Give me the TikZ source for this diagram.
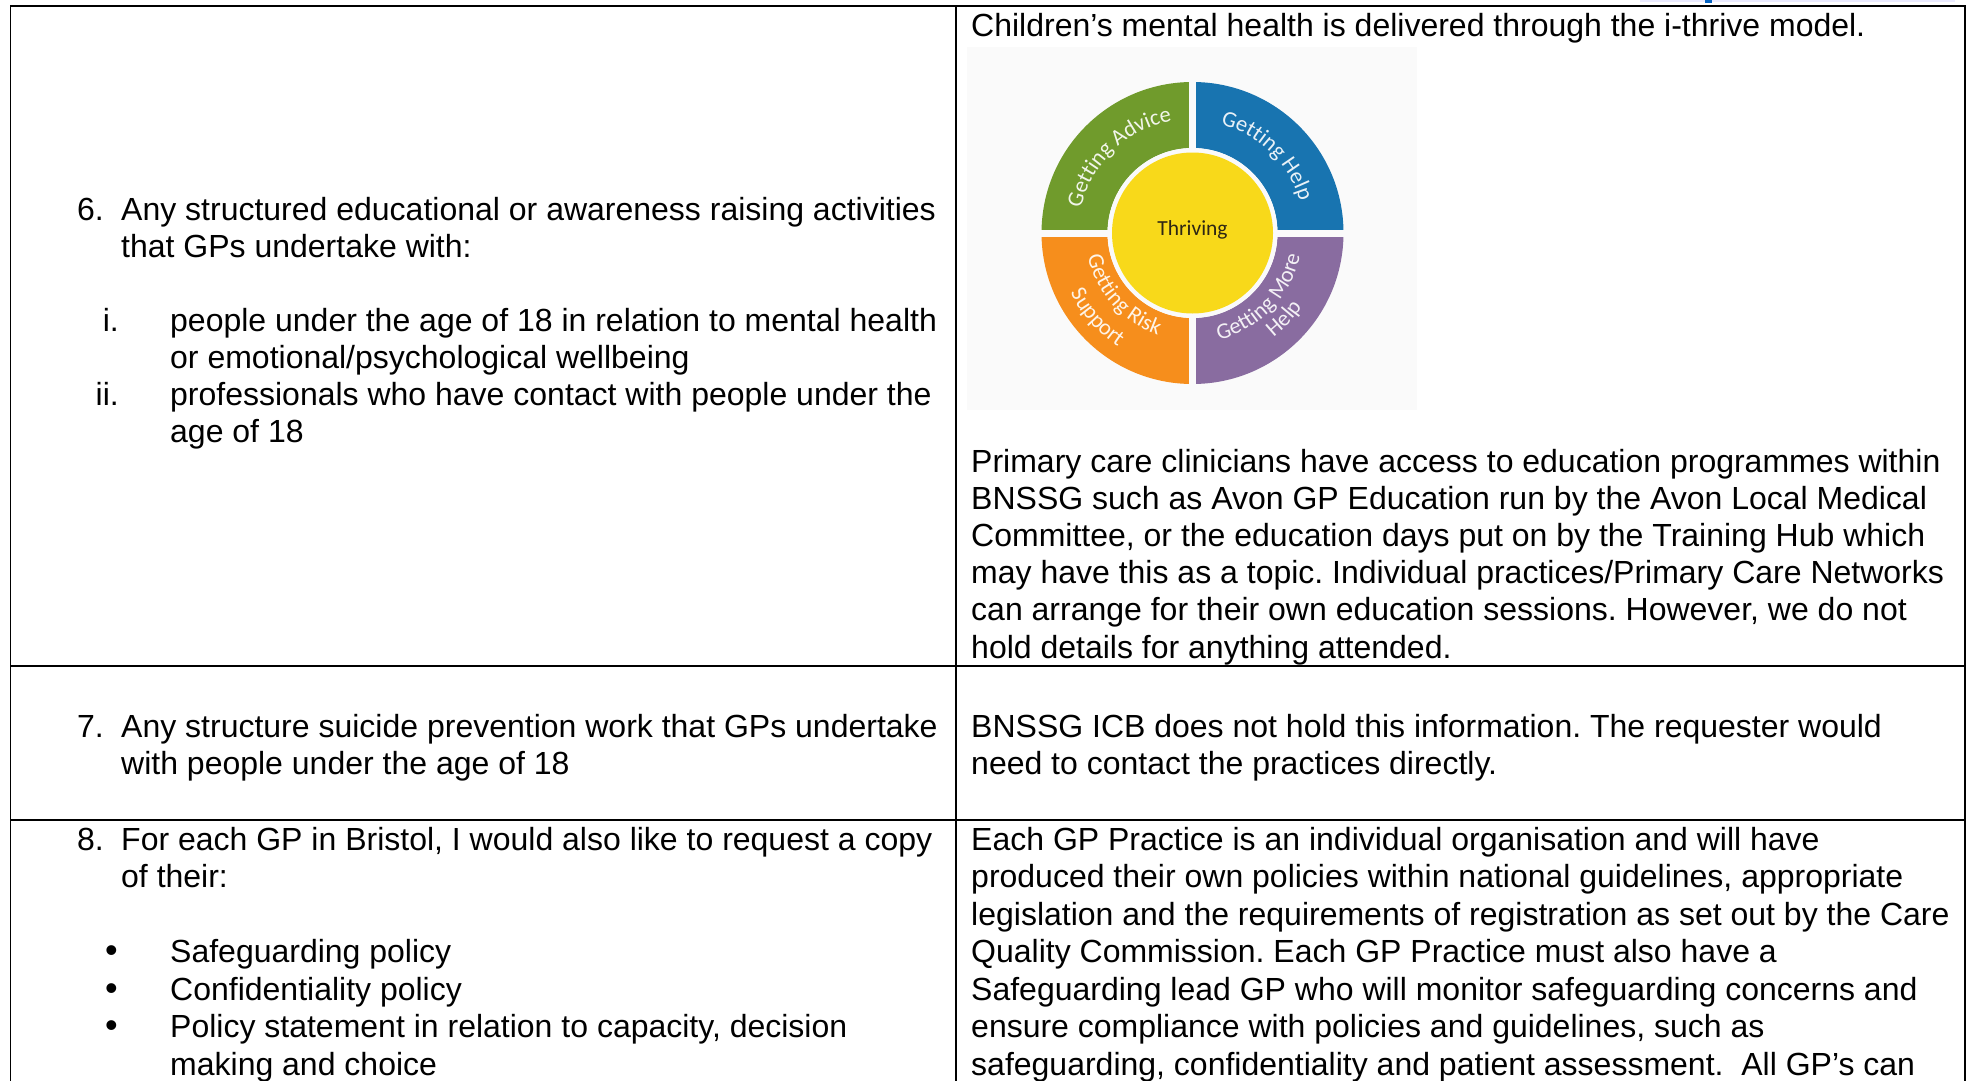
\documentclass[tikz,border=0pt]{standalone}
\usepackage{fontspec}
\setmainfont{Liberation Sans}
\newfontfamily\ringfont{Carlito}
\usetikzlibrary{decorations.text}
\definecolor{rgreen}{RGB}{112,155,44}
\definecolor{rblue}{RGB}{24,116,176}
\definecolor{rorange}{RGB}{246,142,28}
\definecolor{rpurple}{RGB}{137,108,160}
\definecolor{ryellow}{RGB}{248,217,26}
\definecolor{imgbg}{RGB}{250,250,250}
\definecolor{linkblue}{RGB}{5,99,193}
\definecolor{thrivetxt}{RGB}{45,38,20}
\frenchspacing
\begin{document}
\begin{tikzpicture}[x=1pt,y=1pt,
  body/.style={anchor=base west, inner sep=0pt, font=\fontsize{32}{37.2}\selectfont},
  bodyr/.style={anchor=base east, inner sep=0pt, font=\fontsize{32}{37.2}\selectfont},
  rule/.style={line width=1.4pt, draw=black},
  outer/.style={line width=2pt, draw=black},
  ringtext/.style={decorate, decoration={text along path, text align=center, text color=#1}},
]
\useasboundingbox (0,0) rectangle (1970,-1081);
\fill[white] (0,0) rectangle (1970,-1081);
% cut-off link text at the top
\fill[blue!8] (1640,0) rectangle (1955,-2);
\fill[linkblue] (1705,0) rectangle (1712,-3);
% table grid
\coordinate (tl) at (10,-6.5);
\coordinate (tr) at (1966,-6.5);
\coordinate (tm) at (956,-6.5);
\coordinate (bl) at (10.5,-1081);
\coordinate (br) at (1965,-1081);
\coordinate (bm) at (956,-1081);
\coordinate (s1l) at (10.5,-666);
\coordinate (s1r) at (1965,-666);
\coordinate (s2l) at (10.5,-820);
\coordinate (s2r) at (1965,-820);
\draw[outer] (tl) -- (tr);
\draw[rule] (10.5,-6.5) -- (bl);
\draw[outer] (1965,-6.5) -- (br);
\draw[rule] (tm) -- (bm);
\draw[rule] (s1l) -- (s1r);
\draw[rule] (s2l) -- (s2r);
% row 6 left
\node[body] (n6) at (77,-220) {6.};
\node[body] (q6a) at (121,-220) {Any structured educational or awareness raising activities};
\node[body] (q6b) at (121,-257.2) {that GPs undertake with:};
\node[bodyr] (ri) at (119,-331.6) {i.};
\node[body] (q6c) at (170,-331.6) {people under the age of 18 in relation to mental health};
\node[body] (q6d) at (170,-368.8) {or emotional/psychological wellbeing};
\node[bodyr] (rii) at (119,-405) {ii.};
\node[body] (q6e) at (170,-405) {professionals who have contact with people under the};
\node[body] (q6f) at (170,-442) {age of 18};
% row 6 right
\node[body] (a6a) at (971,-37) {Children’s mental health is delivered through the i-thrive model.};
\fill[imgbg] (967,-47) rectangle (1417,-410);
\begin{scope}[shift={(1192.5,-233)}]
  \fill[rgreen] (90:151) arc (90:180:151) -- (180:85) arc (180:90:85) -- cycle;
  \fill[rblue] (0:151) arc (0:90:151) -- (90:85) arc (90:0:85) -- cycle;
  \fill[rorange] (180:151) arc (180:270:151) -- (270:85) arc (270:180:85) -- cycle;
  \fill[rpurple] (270:151) arc (270:360:151) -- (0:85) arc (360:270:85) -- cycle;
  \fill[imgbg] (-152,-3.5) rectangle (152,3.5);
  \fill[imgbg] (-3.5,-152) rectangle (3.5,152);
  \fill[imgbg] (0,0) circle (85);
  \fill[ryellow] (0,0) circle (80.5);
  \node[font=\ringfont\fontsize{21.5}{21.5}\selectfont, text=thrivetxt] (thr) at (0,3) {Thriving};
  \path[ringtext=white!90!rgreen, decoration={text={|\ringfont\fontsize{22.5}{22.5}\selectfont|Getting Advice}}] (174:114) arc (174:94:114);
  \path[ringtext=white!90!rblue, decoration={text={|\ringfont\fontsize{22.5}{22.5}\selectfont|Getting Help}}] (86:112) arc (86:6:112);
  \path[ringtext=white!90!rorange, decoration={text={|\ringfont\fontsize{22.5}{22.5}\selectfont|Getting Risk}}] (182:107.5) arc (182:262:107.5);
  \path[ringtext=white!90!rorange, decoration={text={|\ringfont\fontsize{22.5}{22.5}\selectfont|Support}}] (196:136) arc (196:247:136);
  \path[ringtext=white!90!rpurple, decoration={text={|\ringfont\fontsize{22.5}{22.5}\selectfont|Getting More}}] (276:110) arc (276:356:110);
  \path[ringtext=white!90!rpurple, decoration={text={|\ringfont\fontsize{22.5}{22.5}\selectfont|Help}}] (297:132) arc (297:337:132);
\end{scope}
\node[body] (a6b) at (971,-472) {Primary care clinicians have access to education programmes within};
\node[body] (a6c) at (971,-509.2) {BNSSG such as Avon GP Education run by the Avon Local Medical};
\node[body] (a6d) at (971,-546.4) {Committee, or the education days put on by the Training Hub which};
\node[body] (a6e) at (971,-583.6) {may have this as a topic. Individual practices/Primary Care Networks};
\node[body] (a6f) at (971,-620.8) {can arrange for their own education sessions. However, we do not};
\node[body] (a6g) at (971,-658) {hold details for anything attended.};
% row 7
\node[body] (n7) at (77,-737) {7.};
\node[body] (q7a) at (121,-737) {Any structure suicide prevention work that GPs undertake};
\node[body] (q7b) at (121,-774) {with people under the age of 18};
\node[body] (a7a) at (971,-737) {BNSSG ICB does not hold this information. The requester would};
\node[body] (a7b) at (971,-774) {need to contact the practices directly.};
% row 8
\node[body] (n8) at (77,-850) {8.};
\node[body] (q8a) at (121,-850) {For each GP in Bristol, I would also like to request a copy};
\node[body] (q8b) at (121,-887.5) {of their:};
\node[body, font=\fontsize{36}{37.2}\selectfont] (b1) at (105,-962.5) {•};
\node[body] (q8c) at (170,-962.5) {Safeguarding policy};
\node[body, font=\fontsize{36}{37.2}\selectfont] (b2) at (105,-1000) {•};
\node[body] (q8d) at (170,-1000) {Confidentiality policy};
\node[body, font=\fontsize{36}{37.2}\selectfont] (b3) at (105,-1037.5) {•};
\node[body] (q8e) at (170,-1037.5) {Policy statement in relation to capacity, decision};
\node[body] (q8f) at (170,-1075) {making and choice};
\node[body] (a8a) at (971,-850) {Each GP Practice is an individual organisation and will have};
\node[body] (a8b) at (971,-887.5) {produced their own policies within national guidelines, appropriate};
\node[body] (a8c) at (971,-925) {legislation and the requirements of registration as set out by the Care};
\node[body] (a8d) at (971,-962.5) {Quality Commission. Each GP Practice must also have a};
\node[body] (a8e) at (971,-1000) {Safeguarding lead GP who will monitor safeguarding concerns and};
\node[body] (a8f) at (971,-1037.5) {ensure compliance with policies and guidelines, such as};
\node[body] (a8g) at (971,-1075) {safeguarding, confidentiality and patient assessment.\ \ All GP’s can};
\end{tikzpicture}
\end{document}
